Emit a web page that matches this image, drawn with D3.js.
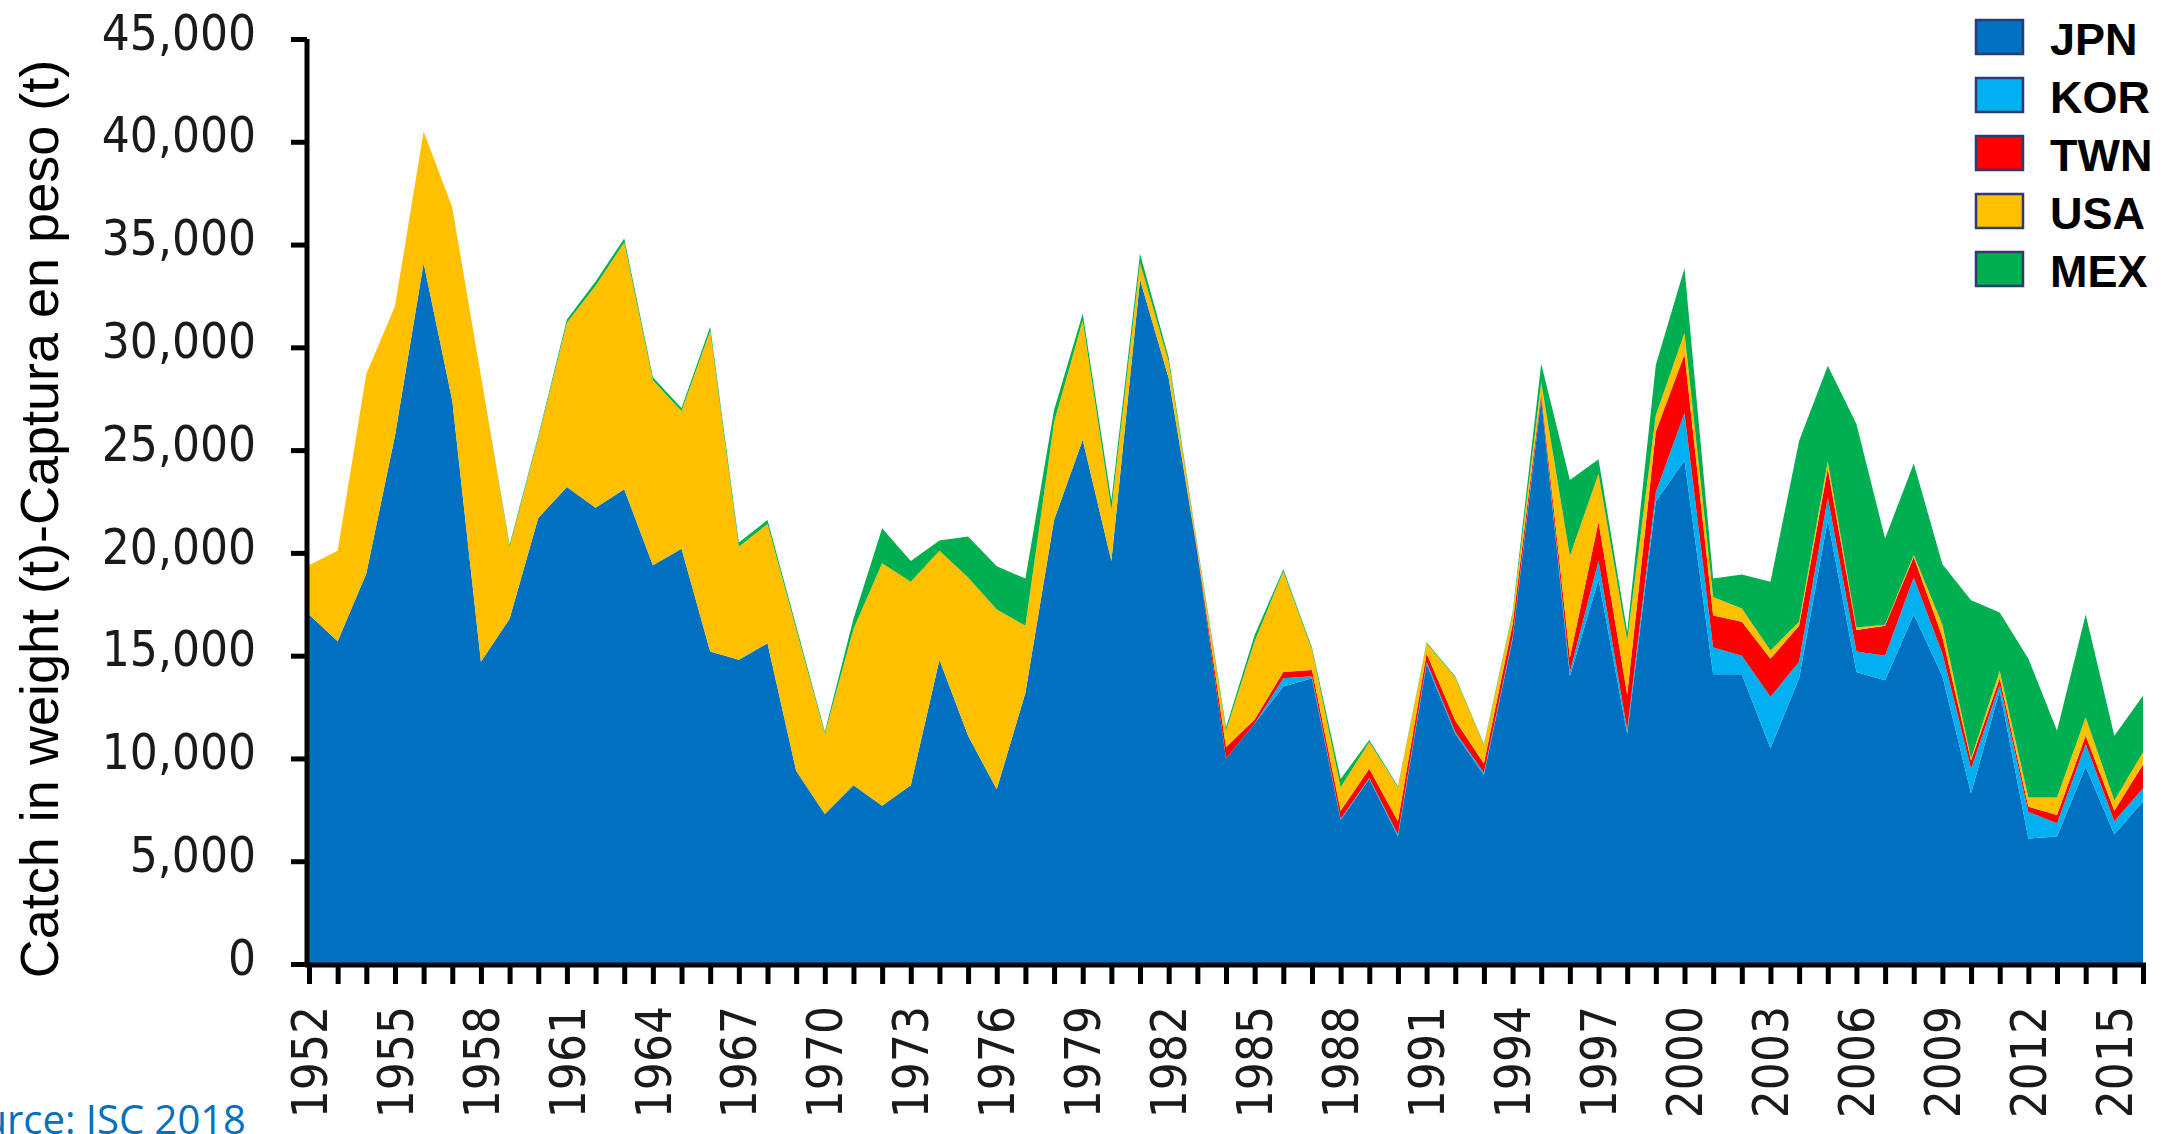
<!DOCTYPE html>
<html>
<head>
<meta charset="utf-8">
<script src="https://cdn.jsdelivr.net/npm/d3@7"></script>
<style>
  body { margin: 0; background: #fff; }
  .tick-label { font-family: "DejaVu Sans Condensed", "DejaVu Sans", sans-serif; font-stretch: condensed; fill: #1a1a1a; }
</style>
</head>
<body>
<svg id="chart" width="2166" height="1134"></svg>
<script>
// catch by country, thousands of t
var years = [1952,1953,1954,1955,1956,1957,1958,1959,1960,1961,1962,1963,1964,1965,1966,1967,
  1968,1969,1970,1971,1972,1973,1974,1975,1976,1977,1978,1979,1980,1981,1982,1983,1984,1985,
  1986,1987,1988,1989,1990,1991,1992,1993,1994,1995,1996,1997,1998,1999,2000,2001,2002,2003,
  2004,2005,2006,2007,2008,2009,2010,2011,2012,2013,2014,2015,2016];

var jpn = [17.0,15.7,19.0,25.7,34.1,27.4,14.7,16.8,21.7,23.2,22.2,23.1,19.4,20.2,15.2,14.8,
  15.6,9.4,7.3,8.7,7.7,8.7,14.8,11.1,8.5,13.2,21.6,25.5,19.6,33.3,28.5,20.0,10.0,11.7,
  13.5,13.9,7.0,9.0,6.2,14.6,11.2,9.2,15.8,27.5,14.0,18.7,11.2,22.5,24.5,14.1,14.1,10.5,
  13.9,21.6,14.2,13.8,17.0,14.0,8.3,13.3,6.1,6.2,9.6,6.3,7.9];
var kor = [0,0,0,0,0,0,0,0,0,0,0,0,0,0,0,0,
  0,0,0,0,0,0,0,0,0,0,0,0,0,0,0,0,0,0,
  0.4,0.1,0.05,0.05,0.1,0.1,0.1,0.1,0.1,0.1,0.2,0.9,0.2,0.45,2.3,1.3,0.9,2.5,
  0.8,1.1,1.0,1.2,1.8,1.1,1.2,0.3,1.3,0.65,1.1,0.65,0.65];
var twn = [0,0,0,0,0,0,0,0,0,0,0,0,0,0,0,0,
  0,0,0,0,0,0,0,0,0,0,0,0,0,0,0,0.1,0.55,0.2,
  0.3,0.3,0.4,0.45,0.65,0.4,0.55,0.45,0.6,0.2,0.7,1.9,1.7,2.95,2.85,1.55,1.65,1.85,
  1.75,1.4,1.05,1.45,1.0,0.8,0.4,0.3,0.25,0.4,0.4,0.5,1.15];
var usa = [2.4,4.4,9.7,6.3,6.4,9.4,13.9,3.5,3.9,8.0,10.8,12.0,9.0,6.7,15.6,5.5,
  5.8,6.9,3.9,7.6,11.8,9.9,5.3,7.7,8.75,3.25,4.75,5.8,2.5,0.8,0.8,0.2,0.8,3.8,
  4.9,1.0,1.15,1.3,1.65,0.5,2.1,0.9,0.5,0.5,4.95,2.35,2.65,0.8,1.05,0.9,0.65,0.4,
  0.2,0.35,0.12,0.05,0.1,0.6,0.1,0.35,0.45,0.85,0.9,0.5,0.6];
var mex = [0,0,0,0,0,0,0,0.1,0.1,0.15,0.2,0.2,0.15,0.15,0.2,0.2,
  0.2,0.15,0.1,0.5,1.7,1.0,0.5,2.0,2.1,2.3,0.6,0.35,0.45,0.45,0.2,0.1,0.15,0.3,
  0.1,0.1,0.4,0.1,0.05,0.05,0.05,0.05,0.1,0.9,3.7,0.7,0.4,2.45,3.15,0.9,1.65,3.35,
  8.8,4.65,9.9,4.2,4.45,2.95,7.7,2.85,6.75,3.25,5.0,3.15,2.75];

var seriesNames = ["JPN", "KOR", "TWN", "USA", "MEX"];
var seriesColors = ["#0070C0", "#00B0F0", "#FF0000", "#FFC000", "#00B050"];
var yTicks = [0,5000,10000,15000,20000,25000,30000,35000,40000,45000];
var xLabelYears = [1952,1955,1958,1961,1964,1967,1970,1973,1976,1979,1982,1985,1988,1991,
  1994,1997,2000,2003,2006,2009,2012,2015];

var yTitle = "Catch in weight (t)-Captura en peso (t)";
var sourceNote = "Source: ISC 2018";

var svg = d3.select("#chart");

// build rows for the stack (values in t)
var rows = years.map(function(yr, i) {
  return { year: yr, JPN: jpn[i]*1000, KOR: kor[i]*1000, TWN: twn[i]*1000, USA: usa[i]*1000, MEX: mex[i]*1000 };
});

var x = d3.scaleLinear().domain([1952, 2016]).range([309, 2143]);
var y = d3.scaleLinear().domain([0, 45000]).range([964, 39]);
var color = d3.scaleOrdinal().domain(seriesNames).range(seriesColors);

var stack = d3.stack().keys(seriesNames);
var layers = stack(rows);

var area = d3.area()
  .x(function(d) { return x(d.data.year); })
  .y0(function(d) { return y(d[0]); })
  .y1(function(d) { return y(d[1]); });

svg.append("g").selectAll("path")
  .data(layers)
  .enter().append("path")
  .attr("d", area)
  .attr("fill", function(d) { return color(d.key); });

// y axis
var yAxis = d3.axisLeft(y).tickValues(yTicks).tickSize(16).tickFormat("");
var gy = svg.append("g").attr("transform", "translate(307,0)").call(yAxis);
gy.select(".domain").attr("stroke", "#000").attr("stroke-width", 5).attr("d", "M0," + y(0) + "V" + y(45000));
gy.selectAll(".tick line").attr("stroke", "#000").attr("stroke-width", 5);

svg.append("g").selectAll("text")
  .data(yTicks)
  .enter().append("text")
  .attr("class", "tick-label")
  .attr("x", 256)
  .attr("y", function(d) { return y(d) - 7; })
  .attr("dy", "0.36em")
  .attr("text-anchor", "end")
  .style("font-size", "49px")
  .text(function(d) { return d3.format(",")(d); });

// x axis
var xAxis = d3.axisBottom(x).tickValues(years).tickSize(19).tickFormat("");
var gx = svg.append("g").attr("transform", "translate(0,965)").call(xAxis);
gx.select(".domain").attr("stroke", "#000").attr("stroke-width", 5).attr("d", "M305,0H2146");
gx.selectAll(".tick line").attr("stroke", "#000").attr("stroke-width", 5);

svg.append("g").selectAll("text")
  .data(xLabelYears)
  .enter().append("text")
  .attr("class", "tick-label")
  .attr("transform", function(d) { return "translate(" + x(d) + ",1006) rotate(-90)"; })
  .attr("dy", "0.36em")
  .attr("text-anchor", "end")
  .style("font-size", "49px")
  .text(function(d) { return d; });

// y title
svg.append("text")
  .attr("transform", "translate(58,519) rotate(-90)")
  .attr("text-anchor", "middle")
  .style("font-family", "'Liberation Sans', Arial, sans-serif")
  .style("font-size", "54px")
  .attr("fill", "#000")
  .text(yTitle);

// source note, partly off the left edge as in the original
svg.append("text")
  .attr("x", 246)
  .attr("y", 1134)
  .attr("text-anchor", "end")
  .style("font-family", "'Open Sans', sans-serif")
  .style("font-size", "40px")
  .attr("fill", "#0070C0")
  .text(sourceNote);

// legend
var legend = svg.append("g").selectAll(".legend")
  .data(seriesNames)
  .enter().append("g")
  .attr("class", "legend")
  .attr("transform", function(d, i) { return "translate(1976," + (20 + i * 58) + ")"; });
legend.append("rect")
  .attr("width", 47)
  .attr("height", 34)
  .attr("fill", color)
  .attr("stroke", "#2E3B6E")
  .attr("stroke-width", 2.5);
legend.append("text")
  .attr("x", 74)
  .attr("y", 35)
  .style("font-family", "'Liberation Sans', Arial, sans-serif")
  .style("font-weight", "bold")
  .style("font-size", "45px")
  .attr("fill", "#000")
  .text(function(d) { return d; });
</script>
</body>
</html>
